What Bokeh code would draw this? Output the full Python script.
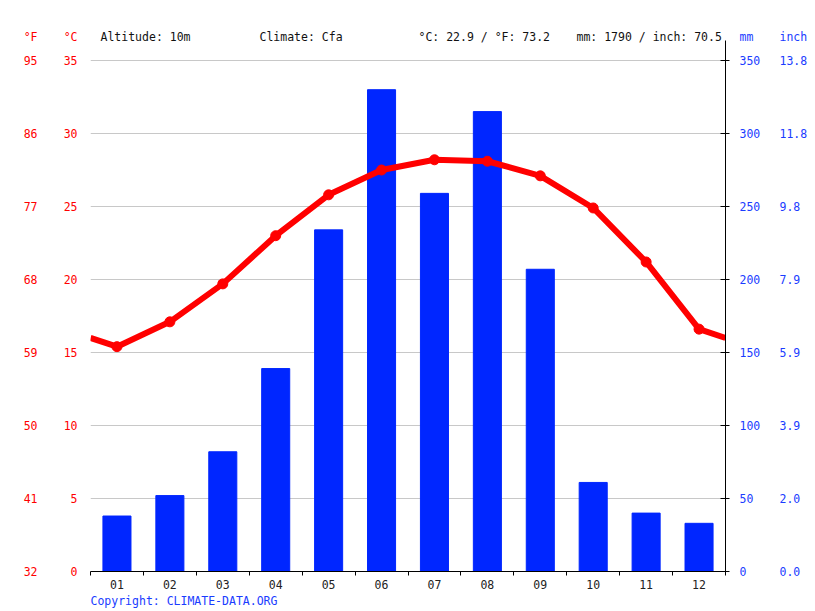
from bokeh.plotting import figure
from bokeh.models import (Range1d, LinearAxis, FixedTicker, Label, Title)
from bokeh.embed import file_html
from bokeh.resources import INLINE

# ---- data ----
months = ["01", "02", "03", "04", "05", "06", "07", "08", "09", "10", "11", "12"]
temp_c = [15.4, 17.1, 19.7, 23.0, 25.8, 27.5, 28.2, 28.1, 27.1, 24.9, 21.2, 16.6]
precip_mm = [38, 52, 82, 139, 234, 330, 259, 315, 207, 61, 40, 33]
c_ticks = [0, 5, 10, 15, 20, 25, 30, 35]
mm_ticks = [0, 50, 100, 150, 200, 250, 300, 350]
altitude = "10m"
climate = "Cfa"

FONT = "DejaVu Sans Mono"
RED = "#ff0000"
BLUE = "#0026ff"
TXT_BLUE = "#1a3cff"
lab_font = "11.5px"

# ---- layout (pixels) ----
W, H = 815, 611
L, R, T, B = 90, 90, 24, 40
frame_h = H - T - B
px_per_c = (H - B - 60) / 35.0          # 35 °C at y=60px
c_top = frame_h / px_per_c
head_c = (H - B - 36) / px_per_c        # header row at y=36px
line_top_mm = (H - B - 40) / px_per_c * 10   # right axis line top at y=40px

x = list(range(1, 13))

p = figure(width=W, height=H, output_backend="svg", toolbar_location=None,
           x_range=Range1d(0.5, 12.5), y_range=Range1d(0, c_top),
           min_border_left=L, min_border_right=R, min_border_top=T, min_border_bottom=B,
           x_axis_location=None, y_axis_location=None)
p.outline_line_color = None
p.background_fill_color = "white"
p.border_fill_color = "white"

p.extra_y_ranges = {
    "mm": Range1d(0, c_top * 10),
    "inch": Range1d(0, c_top * 10 / 25.4),
    "F": Range1d(32, c_top * 1.8 + 32),
}

# grid lines
p.xgrid.visible = False
p.ygrid.ticker = FixedTicker(ticks=c_ticks)
p.ygrid.grid_line_color = "#c8c8c8"
p.ygrid.grid_line_width = 1

# bars
p.vbar(x=x, top=precip_mm, width=0.53, bottom=0, color=BLUE, y_range_name="mm")

# temperature line (wrap edges between Dec and Jan)
edge = (temp_c[0] + temp_c[-1]) / 2
lx = [0.5] + x + [12.5]
ly = [edge] + temp_c + [edge]
p.line(lx, ly, line_color=RED, line_width=6, line_join="round")
p.scatter(x, temp_c, size=10, color=RED)


def plain_axis(ax, color, standoff):
    ax.axis_line_color = None
    ax.major_tick_line_color = None
    ax.minor_tick_line_color = None
    ax.major_label_standoff = standoff
    ax.major_label_text_font = FONT
    ax.major_label_text_font_size = lab_font
    ax.major_label_text_color = color


# bottom axis
xax = LinearAxis(ticker=FixedTicker(ticks=x, minor_ticks=[i + 0.5 for i in range(0, 13)]),
                 major_label_overrides={i + 1: m for i, m in enumerate(months)})
xax.axis_line_color = "black"
xax.axis_line_width = 1
xax.major_tick_line_color = None
xax.major_tick_out = 0
xax.minor_tick_line_color = "black"
xax.minor_tick_out = 4
xax.minor_tick_in = 0
xax.major_label_standoff = 4
xax.major_label_text_font = FONT
xax.major_label_text_font_size = lab_font
xax.major_label_text_color = "#222222"
p.add_layout(xax, "below")

# left axes: °C then °F (header unit as top label)
cax = LinearAxis(ticker=FixedTicker(ticks=c_ticks + [head_c]),
                 major_label_overrides={head_c: "°C"})
plain_axis(cax, RED, 7)
p.add_layout(cax, "left")

f_ticks = [c * 1.8 + 32 for c in c_ticks]
head_f = head_c * 1.8 + 32
fax = LinearAxis(y_range_name="F", ticker=FixedTicker(ticks=f_ticks + [head_f]))
fax.major_label_overrides = {**{f: "%d" % round(f) for f in f_ticks}, head_f: "°F"}
plain_axis(fax, RED, 17)
p.add_layout(fax, "left")

# right side: axis line + ticks (minor ticks only, so no labels), then mm, then inch labels
lineax = LinearAxis(y_range_name="mm", ticker=FixedTicker(ticks=[], minor_ticks=mm_ticks),
                    bounds=(0, line_top_mm))
lineax.axis_line_color = "black"
lineax.major_tick_line_color = None
lineax.major_tick_out = 4
lineax.minor_tick_line_color = "black"
lineax.minor_tick_in = 5
lineax.minor_tick_out = 4
lineax.major_label_standoff = 0
p.add_layout(lineax, "right")

head_mm = head_c * 10
mmax = LinearAxis(y_range_name="mm", ticker=FixedTicker(ticks=mm_ticks + [head_mm]),
                  major_label_overrides={head_mm: "mm"})
plain_axis(mmax, TXT_BLUE, 4)
p.add_layout(mmax, "right")

in_ticks = [m / 25.4 for m in mm_ticks]
head_in = head_mm / 25.4
inax = LinearAxis(y_range_name="inch", ticker=FixedTicker(ticks=in_ticks + [head_in]))
inax.major_label_overrides = {**{t: "%.1f" % t for t in in_ticks}, head_in: "inch"}
plain_axis(inax, TXT_BLUE, 10)
p.add_layout(inax, "right")

# header texts inside the top strip of the frame
mean_c = sum(temp_c) / 12
mean_f = mean_c * 1.8 + 32
tot_mm = sum(precip_mm)
tot_in = tot_mm / 25.4


def xd(px):
    return 0.5 + (px - L) * 12 / (W - L - R)


header = [
    ("Altitude: " + altitude, 100),
    ("Climate: " + climate, 259),
    ("°C: %.1f / °F: %.1f" % (mean_c, mean_f), 418),
    ("mm: %d / inch: %.1f" % (tot_mm, tot_in), 576),
]
for txt, px in header:
    p.add_layout(Label(x=xd(px), y=head_c, text=txt, text_font=FONT, text_font_size=lab_font,
                       text_color="#111111", text_align="left", text_baseline="middle"))

# footer
p.add_layout(Title(text="Copyright: CLIMATE-DATA.ORG", align="left", text_font=FONT,
                   text_font_size=lab_font, text_font_style="normal", text_color=TXT_BLUE,
                   standoff=0), "below")

open("out.html", "w").write(file_html(p, INLINE))
